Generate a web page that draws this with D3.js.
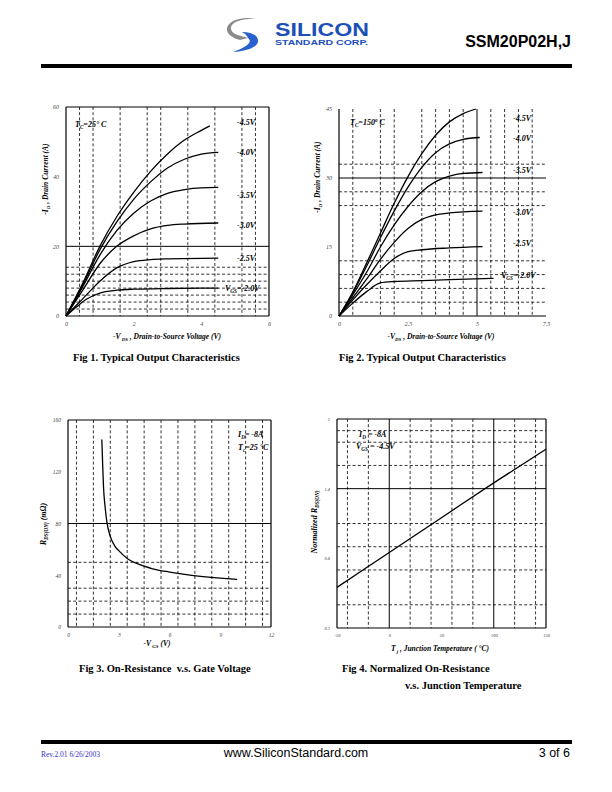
<!DOCTYPE html>
<html><head><meta charset="utf-8">
<script src="https://cdn.jsdelivr.net/npm/d3@7"></script>
<style>
body{margin:0;background:#fff;}
svg text{font-family:"Liberation Serif","Times New Roman",serif;}
</style></head>
<body><svg id="page" width="612" height="792"></svg>
<script>
// ---------- DATA ----------
// Fig 1 : Tc = 25 C, -VDS (V) vs -ID (A)
const fig1Vgs = ["-2.0V","-2.5V","-3.0V","-3.5V","-4.0V","-4.5V"];
const fig1_20 = [[0,0],[0.3,2.5],[0.6,4.8],[1,6.6],[1.5,7.4],[2,7.7],[3,7.9],[4.5,8.0]];
const fig1_25 = [[0,0],[0.5,5],[1,10],[1.5,13.8],[2,15.6],[2.5,16.2],[3,16.4],[4.5,16.6]];
const fig1_30 = [[0,0],[0.5,7.5],[1,15],[1.5,20],[2,23],[2.5,25],[3,26],[3.5,26.4],[4.5,26.7]];
const fig1_35 = [[0,0],[0.5,8.5],[1,17.5],[1.5,24.5],[2,29.5],[2.5,33],[3,35.2],[3.5,36.3],[4,36.8],[4.5,36.9]];
const fig1_40 = [[0,0],[0.5,9],[1,19],[1.5,27],[2,33.5],[2.5,38.5],[3,42.5],[3.5,45],[4,46.5],[4.5,47]];
const fig1_45 = [[0,0],[0.5,9.5],[1,20],[1.5,28.5],[2,35.5],[2.5,41.5],[3,46.5],[3.5,50.5],[4,53.3],[4.25,54.6]];
const fig1XTicks = [0,2,4,6];
const fig1YTicks = [0,20,40,60];
const fig1DashX = [0.4,0.8,1.6,2.4,2.8,3.6,4.4,5.2,5.6];
const fig1DashY = [2,4,6,8,10,12,14];
const fig1SolidY = [20];

// Fig 2 : Tc = 150 C
const fig2_20 = [[0,0],[0.5,2.8],[1,5.3],[1.5,7.2],[2,7.5],[3,7.7],[4,7.9],[5.6,8.2]];
const fig2_25 = [[0,0],[0.5,3.5],[1,6.8],[1.5,9.8],[2,12.5],[2.5,14],[3,14.4],[4,14.8],[5.2,15.1]];
const fig2_30 = [[0,0],[0.5,4],[1,8],[1.5,12.3],[2,16],[2.5,19],[3,21],[3.5,22],[4,22.4],[5.2,22.8]];
const fig2_35 = [[0,0],[0.5,4.6],[1,9.5],[1.5,15],[2,19.8],[2.5,23.8],[3,27],[3.5,29.2],[4,30.4],[4.5,31],[5.2,31.2]];
const fig2_40 = [[0,0],[0.5,5],[1,10.8],[1.5,17],[2,22.8],[2.5,28],[3,32.3],[3.5,35.5],[4,37.4],[4.5,38.4],[5.1,38.8]];
const fig2_45 = [[0,0],[0.5,5.2],[1,11.5],[1.5,18],[2,24.5],[2.5,30.3],[3,35.3],[3.5,39.3],[4,42.2],[4.5,44],[4.96,45]];
const fig2XTicks = [0,2.5,5,7.5];
const fig2YTicks = [0,15,30,45];
const fig2DashX = [0.5,1.5,2.0,3.0,3.5,4.0,4.5,5.5,6.0,6.5,7.0];
const fig2SolidX = [5];
const fig2DashY = [3,6,9,12,24,27,33];
const fig2SolidY = [30];

// Fig 3 : RDS(ON) vs -VGS
const fig3Vgs = [2.0,2.05,2.1,2.2,2.3,2.5,2.8,3,3.5,4,4.5,5,6,7,8,9,10];
const fig3Rds = [145,125,108,92,81,70,62,59,53,49.5,47,45,42.5,40.5,39,37.8,36.8];
const fig3XTicks = [0,3,6,9,12];
const fig3YTicks = [0,40,80,120,160];
const fig3DashX = [0.5,1.5,2.5,3.5,4.5,5.5,6.5,7.5,8.5,9.5,10.5,11.5];
const fig3DashY = [10,20,30,50];
const fig3SolidY = [80];

// Fig 4 : Normalized RDS(ON) vs Tj
const fig4Tj = [-50,0,50,100,150];
const fig4Rn = [0.55,0.85,1.15,1.45,1.74];
const fig4XTicks = [-50,0,50,100,150];
const fig4YTicks = [0.2,0.8,1.4,2];
const fig4DashX = [-40,-20,20,40,60,80,120,140];
const fig4SolidX = [0,100];
const fig4DashY = [0.4,0.7,0.9,1.1,1.6,1.8,1.9];
const fig4SolidY = [1.4];

// ---------- DRAW ----------
const svg = d3.select("#page");

// header
const logo = svg.append("g");
logo.append("path").attr("d","M257,19 C243,18 230,22 231,29 C232,35 242,36 248,38 L240,40 C233,38 226,34 227,28 C229,19 245,16 257,19 Z").attr("fill","#8a8a8a");
logo.append("path").attr("d","M248,38 C253,42 247,47 233,52 C247,51 259,47 258,40 C257,34 249,32 242,32 C246,34 247,36 248,38 Z").attr("fill","#2a5fd0");
logo.append("text").attr("x",275).attr("y",36).attr("font-weight","900").attr("font-size",19).attr("fill","#1e4fb8").attr("textLength",94).attr("lengthAdjust","spacingAndGlyphs").style("font-family","Liberation Sans, Arial, sans-serif").text("SILICON");
logo.append("text").attr("x",275).attr("y",45).attr("font-weight","bold").attr("font-size",7).attr("fill","#1e4fb8").attr("textLength",93).attr("lengthAdjust","spacingAndGlyphs").style("font-family","Liberation Sans, Arial, sans-serif").text("STANDARD CORP.");
svg.append("text").attr("x",571).attr("y",47).attr("text-anchor","end").attr("font-weight","bold").attr("font-size",16).style("font-family","Liberation Sans, Arial, sans-serif").text("SSM20P02H,J");
svg.append("rect").attr("x",41).attr("y",64).attr("width",531).attr("height",4).attr("fill","#000");

// footer
svg.append("rect").attr("x",41).attr("y",740).attr("width",531).attr("height",4).attr("fill","#000");
svg.append("text").attr("x",41).attr("y",757).attr("font-size",7.5).attr("fill","#3333cc").text("Rev.2.01 6/26/2003");
svg.append("text").attr("x",296).attr("y",757).attr("text-anchor","middle").attr("font-size",12.5).style("font-family","Liberation Sans, Arial, sans-serif").text("www.SiliconStandard.com");
svg.append("text").attr("x",570).attr("y",757).attr("text-anchor","end").attr("font-size",12.5).style("font-family","Liberation Sans, Arial, sans-serif").text("3 of 6");

function panel(o){
  const g = svg.append("g");
  const x = d3.scaleLinear().domain(o.xd).range([o.x0,o.x1]);
  const y = d3.scaleLinear().domain(o.yd).range([o.y1,o.y0]);
  const dash = "3,2.2";
  (o.dashX||[]).forEach(v=>g.append("line").attr("x1",x(v)).attr("x2",x(v)).attr("y1",o.y0).attr("y2",o.y1).attr("stroke","#000").attr("stroke-width",0.8).attr("stroke-dasharray",dash));
  (o.dashY||[]).forEach(v=>g.append("line").attr("x1",o.x0).attr("x2",o.x1).attr("y1",y(v)).attr("y2",y(v)).attr("stroke","#000").attr("stroke-width",0.8).attr("stroke-dasharray",dash));
  (o.solidX||[]).forEach(v=>g.append("line").attr("x1",x(v)).attr("x2",x(v)).attr("y1",o.y0).attr("y2",o.y1).attr("stroke","#000").attr("stroke-width",1));
  (o.solidY||[]).forEach(v=>g.append("line").attr("x1",o.x0).attr("x2",o.x1).attr("y1",y(v)).attr("y2",y(v)).attr("stroke","#000").attr("stroke-width",1));
  const b = o.border;
  if(b.includes("l")) g.append("line").attr("x1",o.x0).attr("x2",o.x0).attr("y1",o.y0).attr("y2",o.y1).attr("stroke","#000").attr("stroke-width",1.2);
  if(b.includes("b")) g.append("line").attr("x1",o.x0).attr("x2",o.x1).attr("y1",o.y1).attr("y2",o.y1).attr("stroke","#000").attr("stroke-width",1.2);
  if(b.includes("t")) g.append("line").attr("x1",o.x0).attr("x2",o.x1).attr("y1",o.y0).attr("y2",o.y0).attr("stroke","#000").attr("stroke-width",1.2);
  if(b.includes("r")) g.append("line").attr("x1",o.x1).attr("x2",o.x1).attr("y1",o.y0).attr("y2",o.y1).attr("stroke","#000").attr("stroke-width",1.2);
  const ax = g.append("g").attr("transform",`translate(0,${o.y1+3})`).call(d3.axisBottom(x).tickValues(o.xt).tickSize(0).tickFormat(o.xf||(d=>d)));
  ax.select(".domain").remove();
  ax.selectAll("text").attr("font-size",o.tfs).attr("font-style","italic").attr("fill","#444").style("font-family","Liberation Serif, serif");
  const ay = g.append("g").attr("transform",`translate(${o.x0-4},0)`).call(d3.axisLeft(y).tickValues(o.yt).tickSize(0).tickFormat(o.yf||(d=>d)));
  ay.select(".domain").remove();
  ay.selectAll("text").attr("font-size",o.tfs).attr("font-style","italic").attr("fill","#444").style("font-family","Liberation Serif, serif");
  return {g,x,y};
}

function curve(p, pts){
  const line = d3.line().x(d=>p.x(d[0])).y(d=>p.y(d[1])).curve(d3.curveMonotoneX);
  p.g.append("path").attr("d",line(pts)).attr("fill","none").attr("stroke","#000").attr("stroke-width",1.3);
}

// parts: {t, sub} subscript / {t, up} superscript; baseline restored afterwards
function txt(x,y,parts,fs,anchor){
  const t = svg.append("text").attr("x",x).attr("y",y).attr("font-size",fs).attr("font-weight","bold").attr("font-style","italic").attr("text-anchor",anchor||"start");
  let off = 0;
  parts.forEach(p=>{
    const s = t.append("tspan").text(p.t);
    let target = 0;
    if(p.sub){ s.attr("font-size",fs*0.65); target = fs*0.25; }
    if(p.up){ s.attr("font-size",fs*0.65); target = -fs*0.35; }
    if(target!==off){ s.attr("dy",target-off); off = target; }
  });
  return t;
}
function rtxt(x,y,parts,fs){
  const t = txt(0,0,parts,fs,"middle");
  t.attr("transform",`translate(${x},${y}) rotate(-90)`);
  return t;
}
function caption(x,y,s){
  svg.append("text").attr("x",x).attr("y",y).attr("font-size",10.5).attr("font-weight","bold").attr("xml:space","preserve").style("white-space","pre").text(s);
}

// ---- Fig 1
const p1 = panel({x0:66,x1:269,y0:107,y1:316,xd:[0,6],yd:[0,60],xt:fig1XTicks,yt:fig1YTicks,dashX:fig1DashX,dashY:fig1DashY,solidY:fig1SolidY,border:"lbtr",tfs:6});
[fig1_20,fig1_25,fig1_30,fig1_35,fig1_40,fig1_45].forEach(c=>curve(p1,c));
[["-4.5V",125],["-4.0V",155],["-3.5V",198],["-3.0V",228],["-2.5V",261]].forEach(d=>txt(237,d[1],[{t:d[0]}],8));
txt(225,291,[{t:"V"},{t:"GS",sub:1},{t:"=-2.0V"}],8);
txt(75,127,[{t:"T"},{t:"C",sub:1},{t:"=25° C"}],8);
txt(167,339,[{t:"-V"},{t:" DS",sub:1},{t:" , Drain-to-Source Voltage (V)"}],7.5,"middle");
rtxt(48,179,[{t:"-I"},{t:"D",sub:1},{t:" , Drain Current (A)"}],7.5);
caption(73,361,"Fig 1. Typical Output Characteristics");

// ---- Fig 2
const p2 = panel({x0:339,x1:546,y0:109,y1:316,xd:[0,7.5],yd:[0,45],xt:fig2XTicks,yt:fig2YTicks,dashX:fig2DashX,solidX:fig2SolidX,dashY:fig2DashY,solidY:fig2SolidY,border:"lb",tfs:6});
[fig2_20,fig2_25,fig2_30,fig2_35,fig2_40,fig2_45].forEach(c=>curve(p2,c));
[["-4.5V",121],["-4.0V",141],["-3.5V",173],["-3.0V",215],["-2.5V",246]].forEach(d=>txt(513,d[1],[{t:d[0]}],8));
txt(501,278,[{t:"V"},{t:"GS",sub:1},{t:"=-2.0V"}],8);
txt(350,125,[{t:"T"},{t:"C",sub:1},{t:"=150"},{t:"o",up:1},{t:" C"}],8);
txt(441,339,[{t:"-V"},{t:"DS",sub:1},{t:" , Drain-to-Source Voltage (V)"}],7.5,"middle");
rtxt(320,177,[{t:"-I"},{t:"D",sub:1},{t:" , Drain Current (A)"}],7.5);
caption(339,361,"Fig 2. Typical Output Characteristics");

// ---- Fig 3
const p3 = panel({x0:68,x1:271,y0:420,y1:627,xd:[0,12],yd:[0,160],xt:fig3XTicks,yt:fig3YTicks,dashX:fig3DashX,dashY:fig3DashY,solidY:fig3SolidY,border:"lbtr",tfs:5.5});
curve(p3, fig3Vgs.map((v,i)=>[v,fig3Rds[i]]));
txt(238,437,[{t:"I"},{t:"D",sub:1},{t:"= -8A"}],8);
txt(238,450,[{t:"T"},{t:"c",sub:1},{t:"=25 °C"}],8);
txt(157,646,[{t:"-V"},{t:" GS",sub:1},{t:" (V)"}],7.5,"middle");
rtxt(46,524,[{t:"R"},{t:"DS(ON)",sub:1},{t:" (m"},{t:"Ω"},{t:")"}],8);
caption(79,672,"Fig 3. On-Resistance  v.s. Gate Voltage");

// ---- Fig 4
const p4 = panel({x0:337,x1:546,y0:419,y1:628,xd:[-50,150],yd:[0.2,2],xt:fig4XTicks,yt:fig4YTicks,dashX:fig4DashX,solidX:fig4SolidX,dashY:fig4DashY,solidY:fig4SolidY,border:"lbtr",tfs:4.5});
curve(p4, fig4Tj.map((v,i)=>[v,fig4Rn[i]]));
txt(359,437,[{t:"I"},{t:"D",sub:1},{t:" = -8A"}],8);
txt(356,449,[{t:"V"},{t:"GS",sub:1},{t:" = -4.5V"}],8);
txt(440,651,[{t:"T"},{t:" j",sub:1},{t:" , Junction Temperature ( °C)"}],7.5,"middle");
rtxt(317,522,[{t:"Normalized R"},{t:"DS(ON)",sub:1}],8);
caption(342,672,"Fig 4. Normalized On-Resistance");
caption(405,689,"v.s. Junction Temperature");
</script></body></html>
